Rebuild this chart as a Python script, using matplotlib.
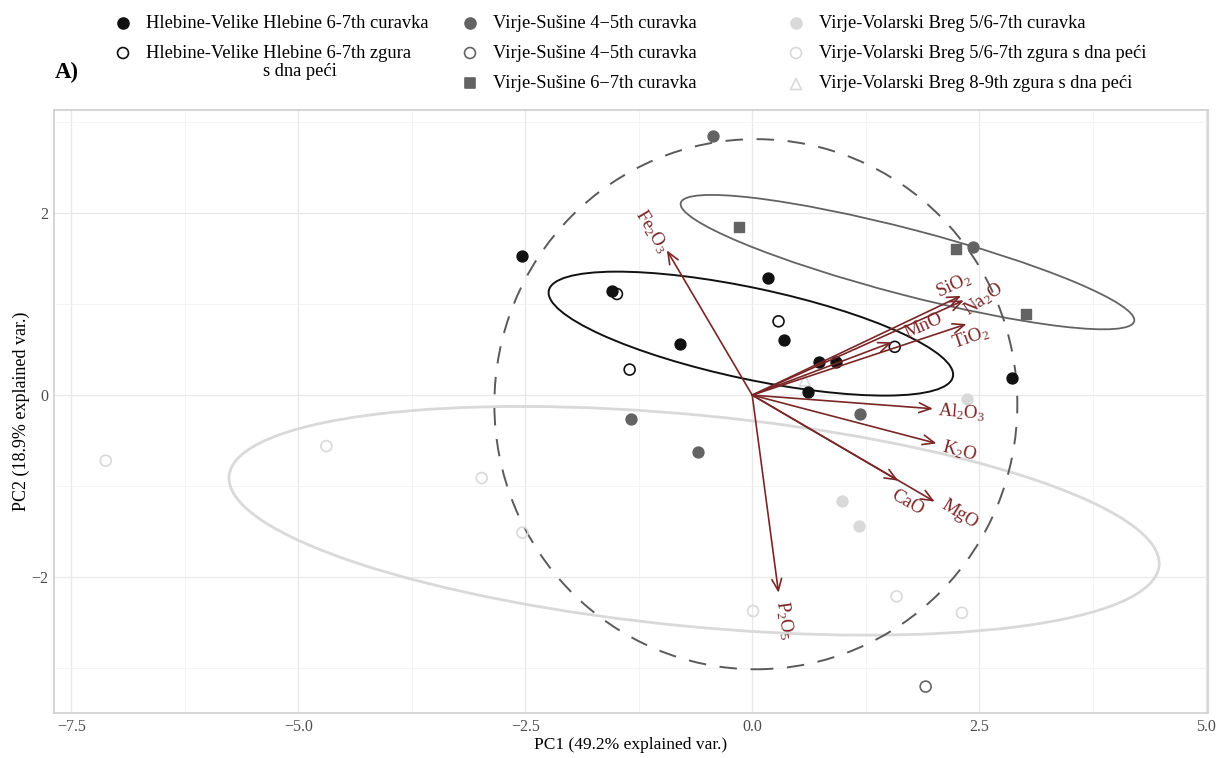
import matplotlib
matplotlib.use('Agg')
import matplotlib.pyplot as plt
from matplotlib.patches import Ellipse
import numpy as np

plt.rcParams['font.family'] = ['Liberation Serif', 'DejaVu Serif']
plt.rcParams['mathtext.fontset'] = 'custom'
plt.rcParams['mathtext.rm'] = 'Liberation Serif'
plt.rcParams['mathtext.it'] = 'Liberation Serif:italic'

# scores
hleb_cur_x = [-2.54, -1.54, -0.80, 0.17, 0.35, 0.74, 0.92, 0.61, 2.86]
hleb_cur_y = [1.53, 1.14, 0.56, 1.29, 0.61, 0.36, 0.36, 0.03, 0.19]
hleb_zg_x = [-1.49, 0.29, -1.35, 1.57]
hleb_zg_y = [1.11, 0.81, 0.28, 0.53]
sus45_cur_x = [-0.43, 2.43, -1.33, 1.19, -0.60]
sus45_cur_y = [2.84, 1.63, -0.26, -0.21, -0.63]
sus45_open_x = [1.91]
sus45_open_y = [-3.20]
sus67_x = [-0.15, 2.25, 3.02]
sus67_y = [1.85, 1.60, 0.89]
vol_cur_x = [2.37, 0.99, 1.18]
vol_cur_y = [-0.04, -1.16, -1.44]
vol_zg_x = [-7.12, -4.69, -2.98, -2.53, 0.01, 1.59, 2.31]
vol_zg_y = [-0.72, -0.56, -0.91, -1.51, -2.37, -2.21, -2.39]
vol89_x = [0.58]
vol89_y = [0.16]

# loadings (arrow tips) and label positions
var_names = ['Fe$_2$O$_3$', 'SiO$_2$', 'Na$_2$O', 'MnO', 'TiO$_2$',
             'Al$_2$O$_3$', 'K$_2$O', 'CaO', 'MgO', 'P$_2$O$_5$']
var_x = [-0.94, 2.30, 2.33, 1.54, 2.36, 1.99, 2.03, 1.61, 2.01, 0.29]
var_y = [1.59, 1.09, 1.04, 0.58, 0.78, -0.15, -0.53, -0.94, -1.17, -2.17]
lab_x = [-1.11, 2.22, 2.54, 1.89, 2.41, 2.31, 2.28, 1.71, 2.28, 0.35]
lab_y = [1.80, 1.21, 1.05, 0.76, 0.63, -0.19, -0.61, -1.18, -1.31, -2.47]
lab_rot = [-59, 25, 35, 24, 19, -5, -15, -30, -32, -82]

# group ellipses: centre, full width, full height, angle
ell_cx = [-0.015, 1.71, -0.64, 0.04]
ell_cy = [0.675, 1.46, -1.38, -0.10]
ell_w = [4.55, 5.16, 10.29, 5.76]
ell_h = [1.00, 0.72, 2.32, 5.82]
ell_ang = [-12.0, -14.6, -5.5, 0.0]

BLACK = '#111111'
DARK = '#636363'
LIGHT = '#d9d9d9'
RED = '#7b2626'

fig = plt.figure(figsize=(12.21, 7.58), dpi=100)
ax = fig.add_axes([54 / 1221, (758 - 713) / 758, (1208 - 54) / 1221, (713 - 110) / 758])

ax.set_xlim(-7.69, 5.02)
ax.set_ylim(-3.49, 3.13)
ax.set_xticks([-7.5, -5.0, -2.5, 0.0, 2.5, 5.0])
ax.set_xticklabels(['\u22127.5', '\u22125.0', '\u22122.5', '0.0', '2.5', '5.0'])
ax.set_yticks([-2, 0, 2])
ax.set_yticklabels(['\u22122', '0', '2'])
ax.set_xticks([-6.25, -3.75, -1.25, 1.25, 3.75], minor=True)
ax.set_yticks([-3, -1, 1, 3], minor=True)
ax.grid(True, which='major', color='#e8e8e8', lw=0.9)
ax.grid(True, which='minor', color='#f2f2f2', lw=0.6)
ax.set_axisbelow(True)
for s in ax.spines.values():
    s.set_color('#cfcfcf')
    s.set_linewidth(1.2)
ax.tick_params(which='both', length=0, labelsize=11.5, labelcolor='#4d4d4d', pad=4)

ax.set_xlabel('PC1 (49.2% explained var.)', fontsize=12.5, labelpad=2)
ax.set_ylabel('PC2 (18.9% explained var.)', fontsize=13, labelpad=1)

# ellipses
ell_col = [BLACK, DARK, LIGHT, '#5a5a5a']
ell_ls = ['-', '-', '-', (0, (9, 7))]
ell_lw = [1.4, 1.3, 2.0, 1.4]
for i in range(len(ell_cx)):
    ax.add_patch(Ellipse((ell_cx[i], ell_cy[i]), ell_w[i], ell_h[i], angle=ell_ang[i],
                         fill=False, ec=ell_col[i], ls=ell_ls[i], lw=ell_lw[i], zorder=2))

# points
ms = 62
ax.scatter(vol_zg_x, vol_zg_y, s=ms, facecolors='none', edgecolors=LIGHT, linewidths=1.2, zorder=3)
ax.scatter(vol_cur_x, vol_cur_y, s=ms, color=LIGHT, zorder=3)
ax.scatter(vol89_x, vol89_y, s=ms, marker='^', facecolors='none', edgecolors=LIGHT, linewidths=1.2, zorder=3)
ax.scatter(sus45_cur_x, sus45_cur_y, s=ms, color=DARK, zorder=3)
ax.scatter(sus45_open_x, sus45_open_y, s=ms, facecolors='none', edgecolors=DARK, linewidths=1.2, zorder=3)
ax.scatter(sus67_x, sus67_y, s=56, marker='s', color=DARK, zorder=3)
ax.scatter(hleb_cur_x, hleb_cur_y, s=ms, color=BLACK, zorder=3)
ax.scatter(hleb_zg_x, hleb_zg_y, s=ms, facecolors='none', edgecolors=BLACK, linewidths=1.2, zorder=3)

# loading arrows
for i in range(len(var_names)):
    ax.annotate('', xy=(var_x[i], var_y[i]), xytext=(0, 0),
                arrowprops=dict(arrowstyle='->,head_length=0.6,head_width=0.25', color=RED,
                                lw=1.2, shrinkA=0, shrinkB=0, mutation_scale=14), zorder=4)
    ax.text(lab_x[i], lab_y[i], var_names[i], color=RED, fontsize=13.5, rotation=lab_rot[i],
            ha='center', va='center', rotation_mode='anchor', zorder=5)

# legend drawn in pixel space above the panel
lax = fig.add_axes([0, 0, 1, 1])
lax.set_xlim(0, 1221)
lax.set_ylim(758, 0)
lax.axis('off')

leg_mx = [123, 123, 470, 470, 470, 796, 796, 796]
leg_my = [23, 53, 23, 53, 83, 23, 53, 84]
leg_fc = [BLACK, 'none', DARK, 'none', DARK, LIGHT, 'none', 'none']
leg_ec = [BLACK, BLACK, DARK, DARK, DARK, LIGHT, LIGHT, LIGHT]
leg_mk = ['o', 'o', 'o', 'o', 's', 'o', 'o', '^']
leg_txt = ['Hlebine-Velike Hlebine 6-7th curavka',
           'Hlebine-Velike Hlebine 6-7th zgura',
           'Virje-Sušine 4\u22125th curavka',
           'Virje-Sušine 4\u22125th curavka',
           'Virje-Sušine 6\u22127th curavka',
           'Virje-Volarski Breg 5/6-7th curavka',
           'Virje-Volarski Breg 5/6-7th zgura s dna peći',
           'Virje-Volarski Breg 8-9th zgura s dna peći']
for i in range(len(leg_txt)):
    lax.scatter([leg_mx[i]], [leg_my[i]], s=56 if leg_mk[i] == 's' else 62, marker=leg_mk[i],
                facecolors=leg_fc[i], edgecolors=leg_ec[i], linewidths=1.2)
    lax.text(leg_mx[i] + 23, leg_my[i], leg_txt[i], fontsize=13.3, ha='left', va='center')
lax.text(300, 72, 's dna peći', fontsize=13.3, ha='center', va='center')
lax.text(55, 72, 'A)', fontsize=16.5, fontweight='bold', ha='left', va='center')

fig.savefig('out.png', dpi=100, facecolor='white')
